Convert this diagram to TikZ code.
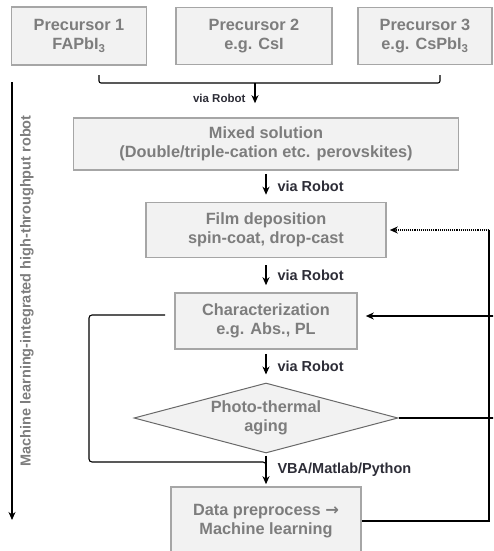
\documentclass[tikz,border=0pt]{standalone}
\usepackage{fontspec}
\setmainfont{Liberation Sans}
\newfontfamily\arrowglyphfont{DejaVu Sans}
\usetikzlibrary{positioning,shapes.geometric,arrows.meta}
\definecolor{boxfill}{RGB}{242,242,242}
\definecolor{boxline}{RGB}{166,166,166}
\definecolor{boxtext}{RGB}{125,125,125}
\definecolor{edgetext}{RGB}{45,45,55}
\definecolor{diamline}{RGB}{105,105,105}
\newcommand\boxtextfont{\bfseries\fontsize{16.3}{19.5}\selectfont}
\newcommand\edgetextfont{\bfseries\fontsize{14.5}{17}\selectfont}
\newcommand\smalledgefont{\bfseries\fontsize{11.5}{13}\selectfont}
\begin{document}
\begin{tikzpicture}[x=1pt, y=-1pt, line width=1.1pt,
  >={Stealth[length=8pt, width=7pt, inset=2.5pt]},
  box/.style={draw=boxline, line width=1.6pt, fill=boxfill, text=boxtext,
    inner sep=0pt, align=center, font=\boxtextfont},
  lbl/.style={text=edgetext, font=\edgetextfont, inner sep=1pt}]
  \useasboundingbox (0,0) rectangle (493,551);
  \clip (0,0) rectangle (493,551);

  \node (P2) [box, minimum width=156pt, minimum height=57pt] at (254,36) {Precursor 2\\e.g. CsI};
  \node (P1) [box, left of=P2, node distance=175pt, minimum width=135pt, minimum height=58pt] {Precursor 1\\FAPbI\textsubscript{3}};
  \node (P3) [box, right of=P2, node distance=171pt, minimum width=134pt, minimum height=57pt] {Precursor 3\\e.g. CsPbI\textsubscript{3}};
  \node (mix) [box, minimum width=385pt, minimum height=52pt] at (266,144) {Mixed solution\\(Double/triple-cation etc. perovskites)};
  \node (film) [box, below of=mix, node distance=86pt, minimum width=240pt, minimum height=55pt] {Film deposition\\spin-coat, drop-cast};
  \node (char) [box, below of=film, node distance=91pt, minimum width=182pt, minimum height=56pt] {Characterization\\e.g. Abs., PL};
  \node (aging) [box, diamond, aspect=3.77, draw=diamline, line width=1pt, inner sep=2pt,
    below of=char, node distance=97pt, minimum width=264pt, minimum height=70pt] {Photo-thermal\\aging};
  \node (data) [box, below of=aging, node distance=103pt, minimum width=190pt, minimum height=68pt] {Data preprocess {\arrowglyphfont\bfseries →}\\Machine learning};

  % precursors merge
  \coordinate (bl) at (99,75);
  \coordinate (br) at (440,75);
  \coordinate (bm) at (255,83);
  \draw[rounded corners=2pt] (bl) |- (bm) -| (br);

  \path[->] (bm) edge [shorten >=14pt] node [lbl, pos=0.45, left=8pt, font=\smalledgefont] {via Robot} (bm |- mix.north)
            (mix) edge [shorten <=3pt, shorten >=7pt] node [lbl, right=10pt] {via Robot} (film)
            (film) edge [shorten <=7pt, shorten >=7pt] node [lbl, right=10pt] {via Robot} (char)
            (char) edge [shorten <=4pt, shorten >=8pt] node [lbl, right=10pt] {via Robot} (aging)
            (aging) edge [shorten <=2pt, shorten >=2pt] node [lbl, right=10pt] {VBA/Matlab/Python} (data)
            ;

  % feedback on the right
  \coordinate (rx) at (489,0);
  \coordinate (ex) at (497,0);
  \coordinate (cin) at ([yshift=5pt]char.east);
  \draw (data.east) -| (film.east -| rx);
  \draw[->, densely dotted, shorten >=3pt] (film.east -| rx) -- (film.east);
  \draw[->, shorten >=8pt] (cin -| ex) -- (cin);
  \draw (aging.east) -- (aging.east -| ex);

  % loop on the left
  \coordinate (cout) at ([xshift=-9pt, yshift=6pt]char.west);
  \coordinate (lx) at (89,462);
  \draw[rounded corners=3pt] (cout) -| (lx) -- (lx -| aging.south) -- ++(0,8);

  % side arrow
  \coordinate (ltop) at (12,82);
  \coordinate (lbot) at (12,520);
  \draw[->] (ltop) -- (lbot);
  \node (side) [rotate=90, text=boxtext, font=\edgetextfont] at (27,291) {Machine learning-integrated high-throughput robot};
\end{tikzpicture}
\end{document}
